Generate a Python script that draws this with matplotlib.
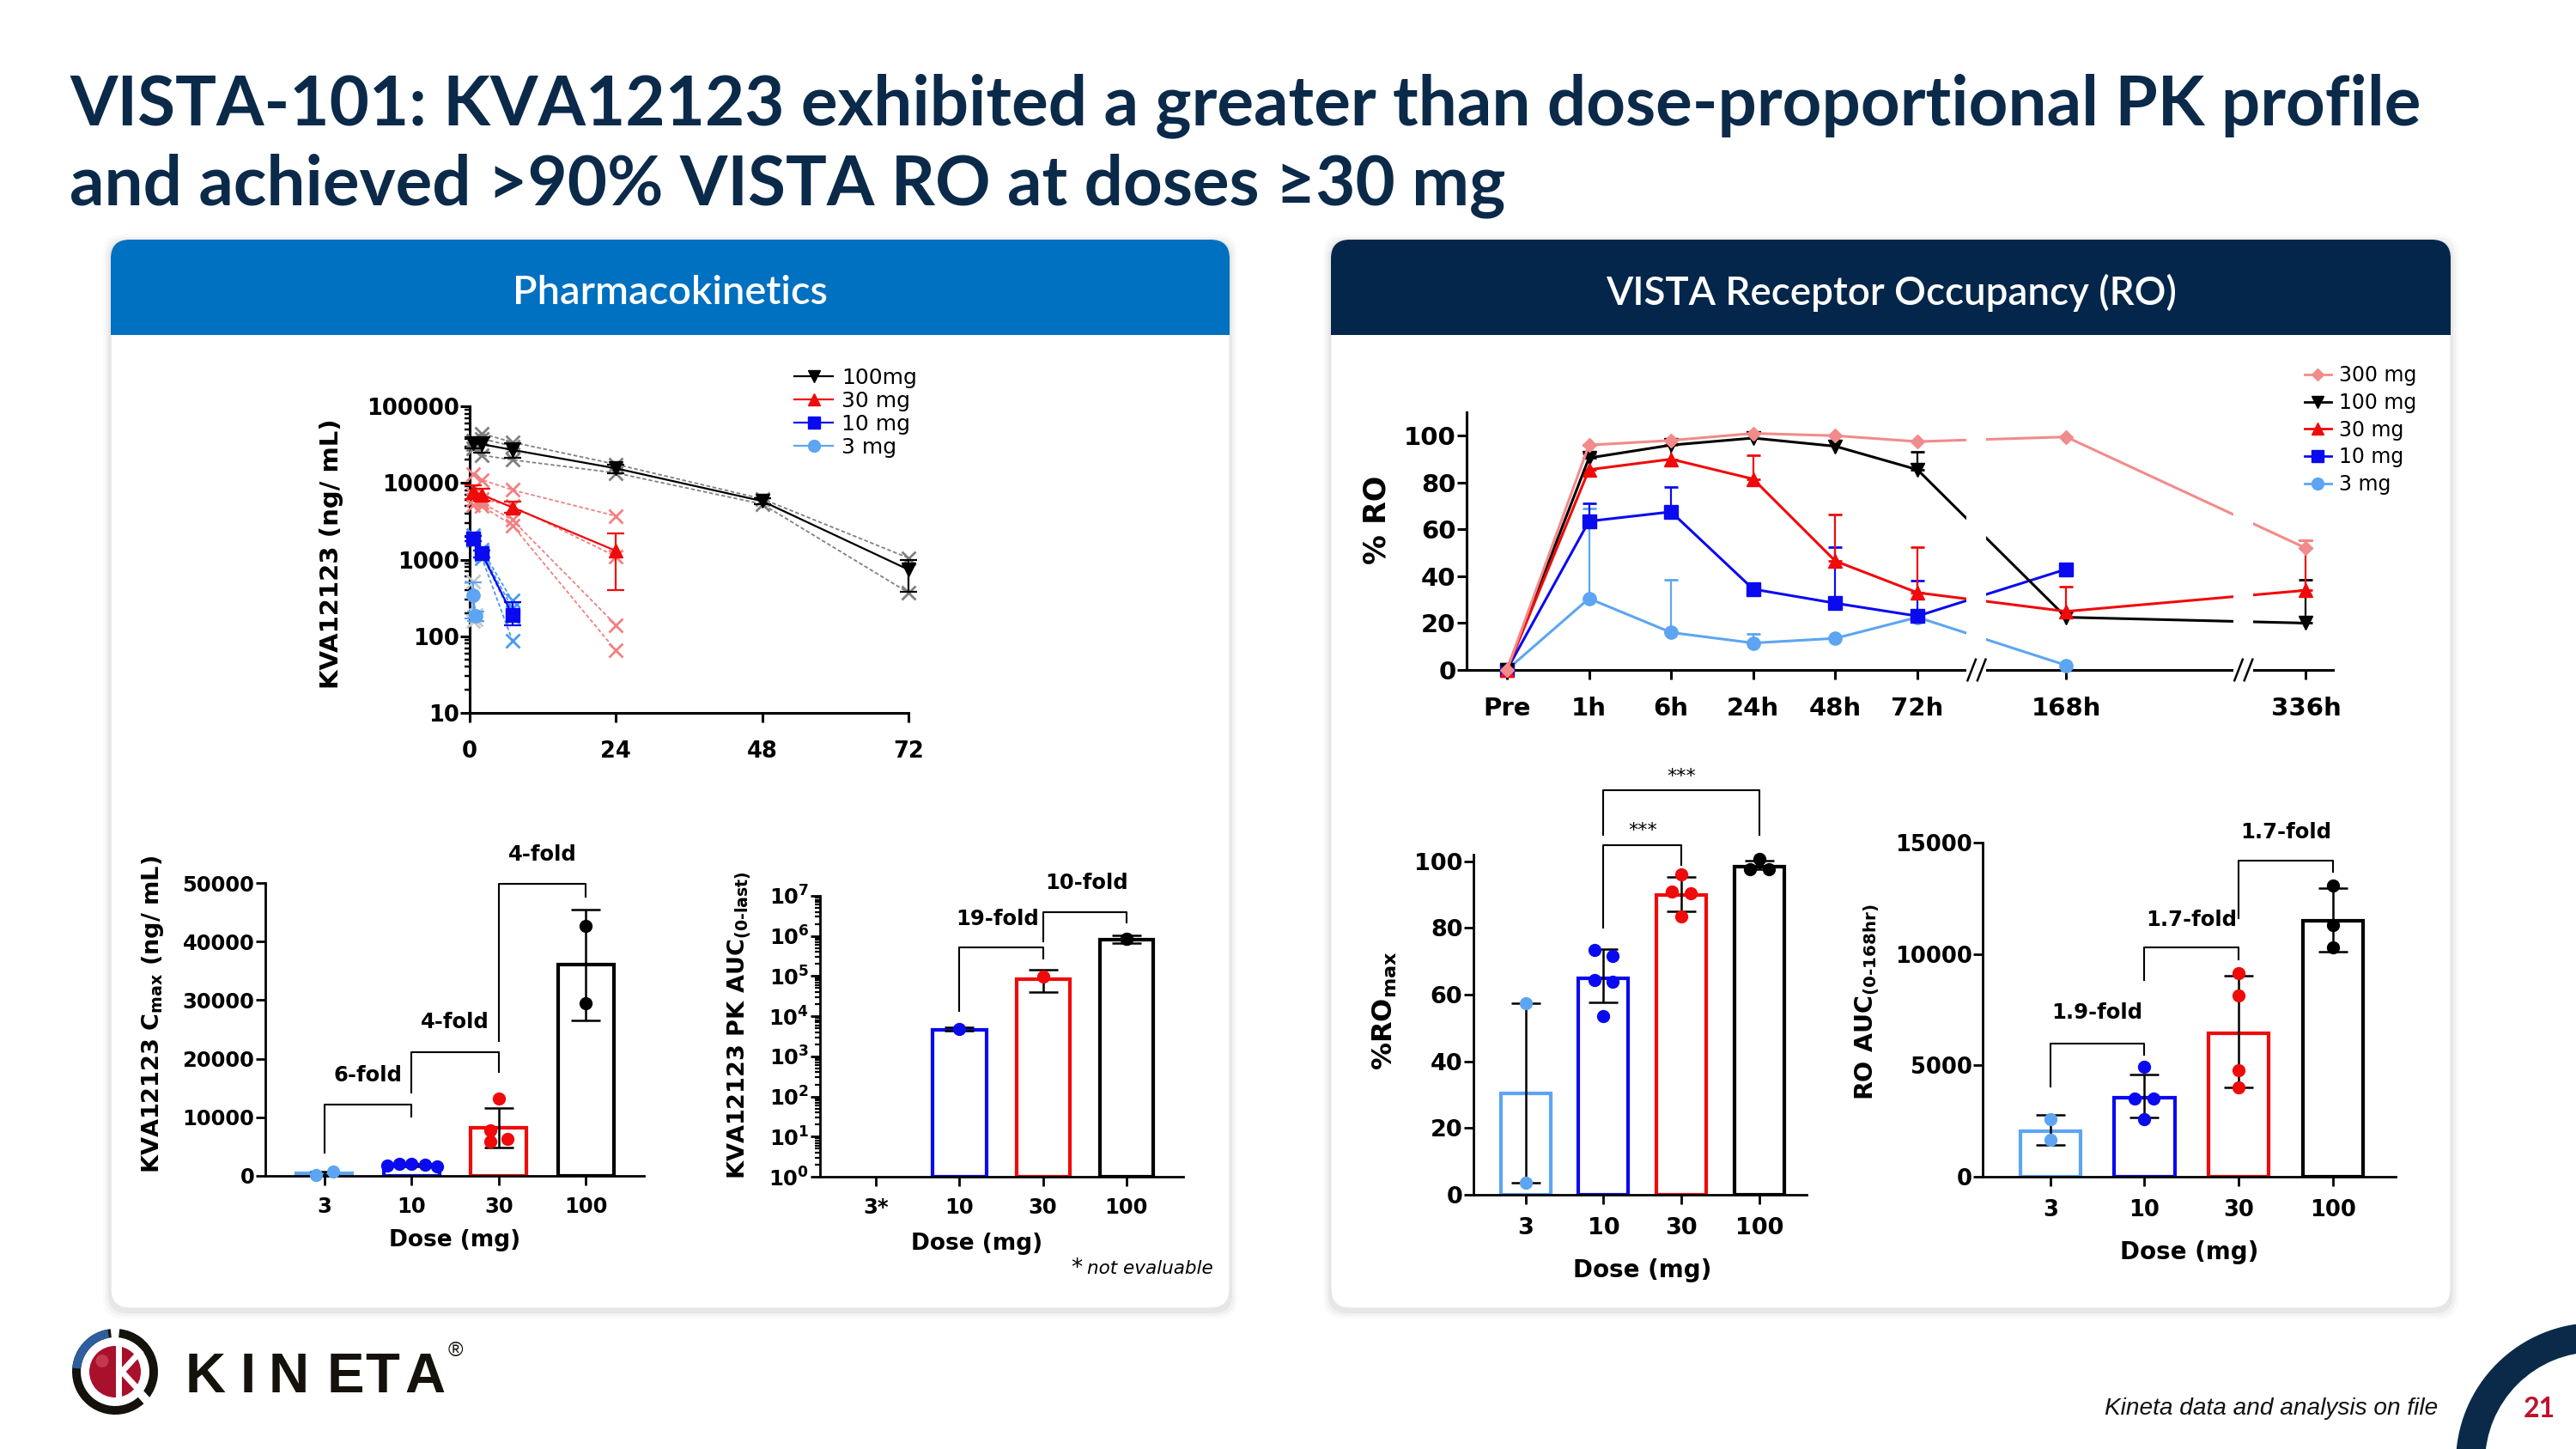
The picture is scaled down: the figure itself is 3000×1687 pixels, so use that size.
import numpy as np
import matplotlib
matplotlib.use('Agg')
import matplotlib.pyplot as plt
from matplotlib.patches import FancyBboxPatch, Rectangle, Circle, Wedge
from matplotlib.lines import Line2D
from matplotlib.ticker import LogLocator, NullFormatter

plt.rcParams['font.family'] = ['DejaVu Sans']
plt.rcParams['font.weight'] = 'bold'
plt.rcParams['mathtext.fontset'] = 'dejavusans'
plt.rcParams['mathtext.default'] = 'bf'

# ---------------------------------------------------------------- data
# PK concentration-time (ng/mL)
pk_time = [0.5, 2, 7, 24, 48, 72]
pk100_mean = [33000, 32000, 27000, 15500, 5800, 740]
pk100_lo = [28000, 25000, 21000, 13500, 5300, 380]
pk100_hi = [38000, 40000, 33000, 17500, 6300, 1000]
pk100_subj = [[36000, 44000, 34000, 17500, 6200, 1050],
              [28000, 23000, 20000, 13500, 5300, 370],
              [32000, 38000, 30000]]
pk30_mean = [7800, 7000, 4800, 1300]
pk30_lo = [6200, 5800, 4100, 400]
pk30_hi = [9200, 8400, 5700, 2200]
pk30_subj = [[13000, 11000, 8100, 3700], [7000, 6200, 5000, 1100],
             [6000, 5500, 3300, 140], [5200, 5000, 2800, 65]]
pk10_mean = [1900, 1200, 190]
pk10_lo = [1750, 1080, 138]
pk10_hi = [2050, 1320, 280]
pk10_subj = [[2100, 1350, 290], [1950, 1250, 230], [1850, 1150, 180], [1800, 1050, 88]]
pk3_time = [0.5, 1]
pk3_mean = [340, 185]
pk3_lo = [170, 160]
pk3_hi = [510, 210]
pk3_subj = [[520, 190], [160, 165]]
pk_legend = ['100mg', '30 mg', '10 mg', '3 mg']

# Dose groups for bar charts
doses = ['3', '10', '30', '100']
auc_doses = ['3*', '10', '30', '100']

cmax_mean = [450, 1850, 8200, 36000]
cmax_lo = [100, 1650, 4900, 26600]
cmax_hi = [800, 2050, 11600, 45400]
cmax_pts = [[150, 680], [1700, 2000, 2000, 1950, 1650], [13200, 7700, 5900, 6300], [42700, 29400]]

auc_mean = [None, 4500, 85000, 820000]
auc_lo = [None, 4300, 41000, 660000]
auc_hi = [None, 5200, 145000, 1050000]
auc_pts = [[], [4700], [95000], [870000, 830000]]

# Receptor occupancy time course (%)
ro_labels = ['Pre', '1h', '6h', '24h', '48h', '72h', '168h', '336h']
ro300 = [0, 96, 98, 101, 100, 97.5, 99.5, 52]
ro100 = [0, 90.5, 96, 99, 95.5, 85.5, 22.5, 20]
ro30 = [0, 85.5, 90, 81.5, 46.5, 33, 25, 34]
ro10 = [0, 63.5, 67.5, 34.5, 28.5, 23, 43, np.nan]
ro3 = [0, 30.5, 16, 11.5, 13.5, 22.5, 2, np.nan]
ro300_up = [np.nan] * 7 + [55.5]
ro100_up = [np.nan, 96, np.nan, np.nan, np.nan, 93, np.nan, 38.5]
ro30_up = [np.nan, 92.5, 96, 91.5, 66.5, 52.5, 35.5, 55.5]
ro10_up = [np.nan, 71, 78, np.nan, 52.5, 38, np.nan, np.nan]
ro3_up = [np.nan, 69, 38.5, 15.5, np.nan, np.nan, np.nan, np.nan]
ro_legend = ['300 mg', '100 mg', '30 mg', '10 mg', '3 mg']

romax_mean = [30.5, 65, 90, 98.5]
romax_lo = [3.5, 57.7, 85.1, 97.5]
romax_hi = [57.5, 73.6, 95.2, 100.3]
romax_pts = [[57.5, 3.5], [73.5, 71.5, 64.5, 64, 53.5], [96, 91, 90.5, 83.5], [100.7, 97.6, 97.6]]

roauc_mean = [2050, 3550, 6450, 11480]
roauc_lo = [1440, 2660, 4000, 10120]
roauc_hi = [2770, 4590, 9020, 12970]
roauc_pts = [[2570, 1640], [4920, 3500, 3500, 2570], [9150, 8150, 4790, 4000], [13070, 11280, 10280]]

# ---------------------------------------------------------------- style
C3, C10, C30, C100, C300 = '#5DA5F2', '#0A0AF0', '#F00A0A', '#000000', '#F28B8B'
DOSE_COLORS = [C3, C10, C30, C100]
NAVY = '#0B2A4A'
W, H = 3000, 1687

fig = plt.figure(figsize=(W / 100, H / 100), dpi=100)
fig.patch.set_facecolor('white')
bg = fig.add_axes([0, 0, 1, 1], zorder=-10)
bg.set_xlim(0, W)
bg.set_ylim(H, 0)
bg.axis('off')


def add_ax(l, t, r, b):
    ax = fig.add_axes([l / W, 1 - b / H, (r - l) / W, (b - t) / H])
    ax.patch.set_alpha(0)
    for s in ('top', 'right'):
        ax.spines[s].set_visible(False)
    return ax


def style(ax, lw=2.0, fs=17, xpad=8, ypad=3, tl=8):
    for s in ('left', 'bottom'):
        ax.spines[s].set_linewidth(lw)
    ax.tick_params(which='major', width=lw, length=tl, labelsize=fs)
    ax.tick_params(axis='x', pad=xpad)
    ax.tick_params(axis='y', pad=ypad)
    ax.tick_params(which='minor', width=lw * 0.8, length=tl * 0.5)


def fit(t, target):
    r = fig.canvas.get_renderer()
    w = t.get_window_extent(r).width
    t.set_fontsize(t.get_fontsize() * target / w)


def ylab(text, x, y, fs):
    fig.text(x / W, 1 - y / H, text, rotation=90, ha='center', va='center', fontsize=fs, fontweight='bold')


def xlab(text, x, y, fs):
    fig.text(x / W, 1 - y / H, text, ha='center', va='center', fontsize=fs, fontweight='bold')


def bracket(ax, x1, x2, yl, yt, yr, label, ty, fs=17.5, weight='bold', tx=None):
    ax.plot([x1, x1, x2, x2], [yl, yt, yt, yr], color='black', lw=1.5, clip_on=False, zorder=5)
    ax.text((x1 + x2) / 2 if tx is None else tx, ty, label, ha='center', va='center',
            fontsize=fs, fontweight=weight, clip_on=False)


def bar_panel(ax, means, lo, hi, pts, offsets, bottom=0):
    for i, m in enumerate(means):
        if m is None:
            continue
        ax.bar(i, m - bottom, bottom=bottom, width=0.64, facecolor='white',
               edgecolor=DOSE_COLORS[i], linewidth=3, zorder=2)
        eb = ax.errorbar(i, m, yerr=[[m - lo[i]], [hi[i] - m]], fmt='none', ecolor='black',
                         elinewidth=1.8, capsize=12, capthick=1.8, zorder=3)
        for a in eb.get_children():
            a.set_clip_on(False)
        if pts[i]:
            ax.plot(i + np.array(offsets[i]), pts[i], 'o', color=DOSE_COLORS[i], ms=10,
                    zorder=4, clip_on=False)


# ---------------------------------------------------------------- slide decoration
def card(x0, y0, x1, y1, hdr, title, target):
    w, h = x1 - x0, y1 - y0
    for pad, a in [(9, 0.02), (6, 0.03), (3, 0.045)]:
        bg.add_patch(FancyBboxPatch((x0, y0 + 3), w, h, boxstyle=f'round,pad={pad},rounding_size=22',
                                    fc='black', ec='none', alpha=a))
    bg.add_patch(FancyBboxPatch((x0, y0), w, h, boxstyle='round,pad=0,rounding_size=22',
                                fc='white', ec='#E4E4E4', lw=0.8))
    bg.add_patch(FancyBboxPatch((x0, y0), w, 111, boxstyle='round,pad=0,rounding_size=22',
                                fc=hdr, ec='none'))
    bg.add_patch(Rectangle((x0, y0 + 60), w, 51, fc=hdr, ec='none'))
    t = bg.text((x0 + x1) / 2, y0 + 62, title, ha='center', va='center', color='white',
                fontsize=30, fontweight='semibold', family=['Lato', 'DejaVu Sans'])
    fit(t, target)


card(129, 279, 1432, 1523, '#0070C0', 'Pharmacokinetics', 366)
card(1550, 279, 2854, 1523, '#03264A', 'VISTA Receptor Occupancy (RO)', 664)

t1 = bg.text(81, 145, 'VISTA-101: KVA12123 exhibited a greater than dose-proportional PK profile',
             ha='left', va='baseline', color=NAVY, fontsize=52, fontweight='bold',
             family=['Lato', 'DejaVu Sans'])
fit(t1, 2737)
bg.text(81, 238, 'and achieved >90% VISTA RO at doses \u226530 mg', ha='left', va='baseline',
        color=NAVY, fontsize=t1.get_fontsize(), fontweight='bold', family=['Lato', 'DejaVu Sans'])

# footer
ft = bg.text(2451, 1640, 'Kineta data and analysis on file', ha='left', va='center', color='#111111',
             fontsize=18, fontweight='normal', style='italic', family=['Liberation Sans', 'DejaVu Sans'])
fit(ft, 388)
bg.add_patch(Wedge((3023, 1703), 163, 0, 360, width=34, fc=NAVY, ec='none'))
bg.text(2957, 1641, '21', ha='center', va='center', color='#C0102A', fontsize=23, fontweight='bold',
        family=['Lato', 'DejaVu Sans'])

# logo
lg = fig.add_axes([82 / W, 1 - 1649 / H, 104 / W, 104 / H])
lg.set_xlim(-1.04, 1.04)
lg.set_ylim(-1.04, 1.04)
lg.set_aspect('equal')
lg.axis('off')
lg.add_patch(Wedge((0, 0), 1.0, 96, 312, width=0.2, fc='#15120C', ec='none'))
lg.add_patch(Wedge((0, 0), 1.0, 100, 175, width=0.2, fc='#2E5E9E', ec='none'))
lg.add_patch(Wedge((0, 0), 1.0, -38, 84, width=0.2, fc='#15120C', ec='none'))
lg.add_patch(Circle((0, 0), 0.6, fc='#A8102C', ec='none'))
lg.add_patch(Circle((-0.3, 0.25), 0.15, fc='#E06070', ec='none', alpha=0.5))
lg.add_patch(Rectangle((0.02, -0.65), 0.14, 1.3, fc='white', ec='none'))
lg.plot([0.16, 0.62], [0.0, 0.5], color='white', lw=5, solid_capstyle='butt')
lg.plot([0.16, 0.85], [0.0, -0.75], color='white', lw=5, solid_capstyle='butt')
for ch, x in zip('KINETA', [216, 280, 313, 381, 425, 471]):
    bg.text(x, 1621, ch, ha='left', va='baseline', fontsize=47, fontweight='bold', color='#15120C',
            family=['Liberation Sans', 'DejaVu Sans'])
bg.text(530, 1573, '\u00ae', ha='center', va='center', fontsize=17, fontweight='normal', color='#15120C',
        family=['Liberation Sans', 'DejaVu Sans'])

# ---------------------------------------------------------------- PK concentration-time
axpk = add_ax(547, 473, 1058, 830)
axpk.set_yscale('log')
axpk.set_xlim(0, 72)
axpk.set_ylim(10, 1e5)
axpk.set_xticks([0, 24, 48, 72])
axpk.set_yticks([10, 100, 1000, 10000, 100000])
axpk.set_yticklabels(['10', '100', '1000', '10000', '100000'])
axpk.yaxis.set_minor_locator(LogLocator(base=10, subs=np.arange(2, 10) * 1.0, numticks=50))
axpk.yaxis.set_minor_formatter(NullFormatter())
style(axpk, lw=2.2, fs=18.5, xpad=15, ypad=1, tl=8)

pk_groups = [
    (pk_time, pk100_subj, pk100_mean, pk100_lo, pk100_hi, C100, '#808080', 'v'),
    (pk_time, pk30_subj, pk30_mean, pk30_lo, pk30_hi, C30, '#F28080', '^'),
    (pk_time, pk10_subj, pk10_mean, pk10_lo, pk10_hi, C10, '#4A9AF0', 's'),
    (pk3_time, pk3_subj, pk3_mean, pk3_lo, pk3_hi, C3, '#C4C8CE', 'o'),
]
handles = []
for tt, subs, mean, lo, hi, c, ci, m in pk_groups:
    for s in subs:
        axpk.plot(tt[:len(s)], s, color=ci, ls=(0, (2.5, 1.5)), lw=1.3, marker='x', ms=11, mew=2,
                  clip_on=False, zorder=3)
    mean = np.array(mean, float)
    n = len(mean)
    eb = axpk.errorbar(tt[:n], mean, yerr=[mean - np.array(lo), np.array(hi) - mean], color=c,
                       marker=m, ms=11, lw=1.6, elinewidth=1.6, capsize=7, capthick=1.6, zorder=4)
    for a in eb.get_children():
        a.set_clip_on(False)
    eb.lines[0].set_clip_on(False)
    handles.append(Line2D([], [], color=c, marker=m, ms=10, lw=1.6))
axpk.legend(handles, pk_legend, loc='upper left', bbox_to_anchor=(925 / W, 1 - 428 / H),
            bbox_transform=fig.transFigure, frameon=False,
            prop={'family': 'DejaVu Sans', 'weight': 'normal', 'size': 18},
            handlelength=1.8, handletextpad=0.4, labelspacing=0.12, borderpad=0, borderaxespad=0)
ylab('KVA12123 (ng/ mL)', 386, 645, 21)

# ---------------------------------------------------------------- Cmax bars
axc = add_ax(309, 1028, 750, 1369)
axc.set_xlim(-0.68, 3.67)
axc.set_ylim(0, 50000)
axc.set_yticks(range(0, 50001, 10000))
axc.set_xticks(range(4))
axc.set_xticklabels(doses)
style(axc, lw=2.0, fs=17.5, xpad=9, ypad=1, tl=8)
bar_panel(axc, cmax_mean, cmax_lo, cmax_hi, cmax_pts,
          [[-0.1, 0.1], [-0.28, -0.14, 0, 0.15, 0.29], [0, -0.1, -0.1, 0.1], [0, 0]])
bracket(axc, 0, 1, 3900, 12100, 10050, '6-fold', 17200)
bracket(axc, 1, 2, 14150, 21130, 17700, '4-fold', 26200)
bracket(axc, 2, 3, 23090, 49850, 47700, '4-fold', 54800)
ylab('KVA12123 C$_{max}$ (ng/ mL)', 178, 1181, 19.5)
xlab('Dose (mg)', 530, 1444, 19)

# ---------------------------------------------------------------- PK AUC bars
axa = add_ax(955, 1043, 1378, 1370)
axa.set_yscale('log')
axa.set_xlim(-0.67, 3.68)
axa.set_ylim(1, 1e7)
axa.set_yticks([10 ** k for k in range(8)])
axa.set_yticklabels([r'$\mathbf{10^{%d}}$' % k for k in range(8)])
axa.yaxis.set_minor_locator(LogLocator(base=10, subs=np.arange(2, 10) * 1.0, numticks=50))
axa.yaxis.set_minor_formatter(NullFormatter())
axa.set_xticks(range(4))
axa.set_xticklabels(auc_doses)
style(axa, lw=2.0, fs=17.5, xpad=9, ypad=1, tl=8)
bar_panel(axa, auc_mean, auc_lo, auc_hi, auc_pts, [[], [0], [0], [0, 0]], bottom=1)
bracket(axa, 1, 2, 13800, 513000, 269000, '19-fold', 2.7e6, tx=1.46)
bracket(axa, 2, 3, 724000, 3.9e6, 2.19e6, '10-fold', 2.1e7, tx=2.52)
ylab('KVA12123 PK AUC$_{(0\u2010last)}$', 861, 1194, 19.5)
xlab('Dose (mg)', 1138, 1448, 19)
fig.text(1247 / W, 1 - 1477 / H, '*', ha='left', va='center', fontsize=19, fontweight='normal')
fig.text(1266 / W, 1 - 1477 / H, 'not evaluable', ha='left', va='center', fontsize=15.5,
         fontweight='normal', style='italic')

# ---------------------------------------------------------------- RO time course
axro = add_ax(1708, 480, 2717, 780)
ro_x = [0, 1, 2, 3, 4, 5, 6.81, 9.73]
axro.set_xlim(-0.49, 10.06)
axro.set_ylim(0, 110)
axro.set_yticks(range(0, 101, 20))
axro.set_xticks(ro_x)
axro.set_xticklabels(ro_labels)
style(axro, lw=2.2, fs=21, xpad=14, ypad=1, tl=8)
ro_series = [
    (ro3, ro3_up, C3, 'o', 11),
    (ro10, ro10_up, C10, 's', 11),
    (ro100, ro100_up, C100, 'v', 11),
    (ro30, ro30_up, C30, '^', 11),
    (ro300, ro300_up, C300, 'D', 8),
]
for vals, up, c, m, ms in ro_series:
    vals = np.array(vals, float)
    up = np.array(up, float)
    ok = ~np.isnan(up)
    xs = np.array(ro_x)
    eb = axro.errorbar(xs[ok], vals[ok], yerr=[np.zeros(ok.sum()), up[ok] - vals[ok]], fmt='none',
                       ecolor=c, elinewidth=1.6, capsize=6, capthick=2, zorder=3)
    axro.plot(xs, vals, color=c, marker=m, ms=ms, lw=2.2, clip_on=False, zorder=4)
for xb in (5.72, 8.97):
    axro.add_patch(Rectangle((xb - 0.12, -3), 0.24, 116, facecolor='white', edgecolor='none',
                             zorder=6, clip_on=False))
    for dx in (-0.06, 0.06):
        axro.plot([xb + dx - 0.05, xb + dx + 0.05], [-4.5, 4.5], color='black', lw=1.8,
                  clip_on=False, zorder=7)
lh = [Line2D([], [], color=c, marker=m, ms=ms - 1, lw=2) for _, _, c, m, ms in ro_series[::-1]]
lh = [lh[0], lh[2], lh[1], lh[3], lh[4]]
axro.legend(lh, ro_legend, loc='upper left', bbox_to_anchor=(2684 / W, 1 - 425 / H),
            bbox_transform=fig.transFigure, frameon=False,
            prop={'family': 'DejaVu Sans', 'weight': 'normal', 'size': 17},
            handlelength=1.3, handletextpad=0.4, labelspacing=0.33, borderpad=0, borderaxespad=0)
ylab('% RO', 1603, 605, 25)

# ---------------------------------------------------------------- %RO max bars
axm = add_ax(1716, 995, 2104, 1391)
axm.set_xlim(-0.67, 3.61)
axm.set_ylim(0, 102)
axm.set_yticks(range(0, 101, 20))
axm.set_xticks(range(4))
axm.set_xticklabels(doses)
style(axm, lw=2.0, fs=19.5, xpad=11, ypad=1, tl=8)
bar_panel(axm, romax_mean, romax_lo, romax_hi, romax_pts,
          [[0, 0], [-0.12, 0.12, -0.12, 0.12, 0], [0, -0.12, 0.12, 0], [0, -0.12, 0.12]])
bracket(axm, 1, 2, 80.2, 104.9, 98.8, '***', 109.3, fs=16, weight='normal')
bracket(axm, 1, 3, 107.8, 121.2, 107.8, '***', 125.5, fs=16, weight='normal')
ylab('%RO$_{max}$', 1613, 1177, 23)
xlab('Dose (mg)', 1913, 1479, 20)

# ---------------------------------------------------------------- RO AUC bars
axr = add_ax(2309, 981, 2790, 1370)
axr.set_xlim(-0.72, 3.67)
axr.set_ylim(0, 15000)
axr.set_yticks(range(0, 15001, 5000))
axr.set_xticks(range(4))
axr.set_xticklabels(doses)
style(axr, lw=2.0, fs=18.5, xpad=11, ypad=1, tl=8)
bar_panel(axr, roauc_mean, roauc_lo, roauc_hi, roauc_pts,
          [[0, 0], [0, -0.1, 0.1, 0], [0, 0, 0, 0], [0, 0, 0]])
bracket(axr, 0, 1, 4030, 5984, 5492, '1.9-fold', 7354)
bracket(axr, 1, 2, 8816, 10279, 9774, '1.7-fold', 11543)
bracket(axr, 2, 3, 11609, 14176, 13670, '1.7-fold', 15465)
ylab('RO AUC$_{(0\u2010168hr)}$', 2175, 1167, 20.5)
xlab('Dose (mg)', 2550, 1458, 20)

fig.savefig('out.png', dpi=100, facecolor='white')
